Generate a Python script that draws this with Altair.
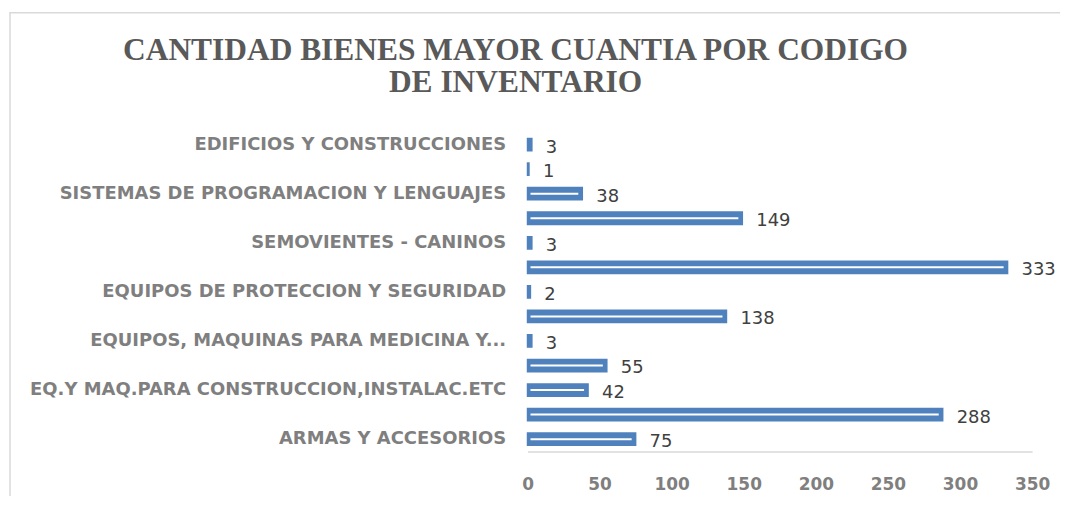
import altair as alt
import pandas as pd

# Categories top to bottom (every other label is hidden in the original chart)
categorias = [
    "EDIFICIOS Y CONSTRUCCIONES",
    "CATEGORIA SIN ETIQUETA 1",
    "SISTEMAS DE PROGRAMACION Y LENGUAJES",
    "CATEGORIA SIN ETIQUETA 2",
    "SEMOVIENTES - CANINOS",
    "CATEGORIA SIN ETIQUETA 3",
    "EQUIPOS DE PROTECCION Y SEGURIDAD",
    "CATEGORIA SIN ETIQUETA 4",
    "EQUIPOS, MAQUINAS PARA MEDICINA Y...",
    "CATEGORIA SIN ETIQUETA 5",
    "EQ.Y MAQ.PARA CONSTRUCCION,INSTALAC.ETC",
    "CATEGORIA SIN ETIQUETA 6",
    "ARMAS Y ACCESORIOS",
]
valores = [3, 1, 38, 149, 3, 333, 2, 138, 3, 55, 42, 288, 75]
etiquetas_visibles = [
    "EDIFICIOS Y CONSTRUCCIONES",
    "SISTEMAS DE PROGRAMACION Y LENGUAJES",
    "SEMOVIENTES - CANINOS",
    "EQUIPOS DE PROTECCION Y SEGURIDAD",
    "EQUIPOS, MAQUINAS PARA MEDICINA Y...",
    "EQ.Y MAQ.PARA CONSTRUCCION,INSTALAC.ETC",
    "ARMAS Y ACCESORIOS",
]
titulo = ["CANTIDAD BIENES MAYOR CUANTIA POR CODIGO", "DE INVENTARIO"]
ticks_x = [0, 50, 100, 150, 200, 250, 300, 350]

df = pd.DataFrame({"categoria": categorias, "valor": valores, "cero": [0] * len(valores)})

lista_js = "[" + ",".join("'" + s + "'" for s in etiquetas_visibles) + "]"

y_enc = alt.Y(
    "categoria:N",
    sort=categorias,
    title=None,
    scale=alt.Scale(paddingInner=0.5, paddingOuter=0.25),
    axis=alt.Axis(
        domain=False,
        ticks=False,
        labelFont="DejaVu Sans",
        labelFontWeight="bold",
        labelFontSize=18,
        labelColor="#7f7f7f",
        labelPadding=22,
        labelLimit=600,
        labelExpr="indexof(" + lista_js + ", datum.value) >= 0 ? datum.value : ''",
    ),
)
x_enc = alt.X(
    "valor:Q",
    title=None,
    scale=alt.Scale(domain=[0, 350], nice=False),
    axis=alt.Axis(
        values=ticks_x,
        grid=False,
        ticks=False,
        labelFlush=False,
        domainColor="#d9d9d9",
        domainWidth=1.5,
        labelFont="DejaVu Sans",
        labelFontWeight="bold",
        labelFontSize=17,
        labelColor="#7f7f7f",
        labelPadding=25,
    ),
)

base = alt.Chart(df)

bars = base.mark_bar(color="#4f81bd", stroke="#4f81bd", strokeWidth=1.5).encode(y=y_enc, x=x_enc)

lineas = (
    base.transform_filter("datum.valor >= 10")
    .mark_rule(color="white", strokeWidth=2, xOffset=3, x2Offset=-4)
    .encode(y=alt.Y("categoria:N", sort=categorias), x=alt.X("cero:Q"), x2="valor:Q")
)

textos = base.mark_text(
    align="left", baseline="middle", dx=14, dy=3, font="DejaVu Sans", fontSize=18, color="#404040"
).encode(y=alt.Y("categoria:N", sort=categorias), x="valor:Q", text="valor:Q")

uno = pd.DataFrame({"k": [0]})

borde = (
    alt.Chart(uno)
    .mark_rect(fill=None, stroke="#d9d9d9", strokeWidth=1.5)
    .encode(
        x=alt.value(-519),
        x2=alt.value(700),
        y=alt.value(-120),
        y2=alt.value(600),
    )
)

titulo_mark = (
    alt.Chart(uno)
    .mark_text(
        text=titulo,
        font="Liberation Serif",
        fontSize=31.5,
        fontWeight="bold",
        color="#595959",
        align="center",
        baseline="alphabetic",
        lineHeight=33,
    )
    .encode(x=alt.value(-12), y=alt.value(-73))
)

chart = (
    alt.layer(borde, titulo_mark, bars, lineas, textos)
    .properties(
        width=506,
        height=320,
        padding={"left": 521, "top": 124, "right": 28, "bottom": 44},
        autosize=alt.AutoSizeParams(type="none"),
    )
    .configure_view(stroke=None)
)

chart.save("out.html", embed_options={"renderer": "svg", "actions": False})
